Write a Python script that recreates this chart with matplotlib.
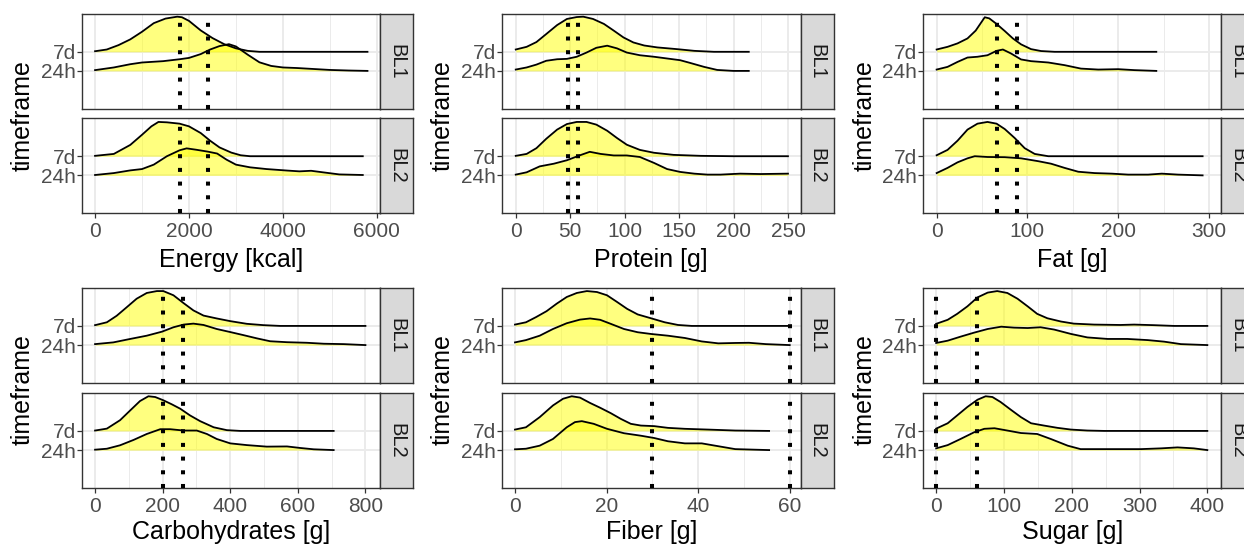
import matplotlib.pyplot as plt

plt.rcParams['font.family'] = ['Liberation Sans', 'DejaVu Sans']

# timeframe levels on the ridge axis (bottom to top)
timeframes = ['24h', '7d']

# ridge heights (in ridge-row units)
energy_bl1_7d_x = [0, 250, 500, 750, 1000, 1250, 1500, 1750, 1850, 2000, 2250, 2500, 2750, 3000, 3250, 3500, 5800]
energy_bl1_7d_h = [0.03, 0.12, 0.35, 0.65, 1.05, 1.50, 1.74, 1.84, 1.81, 1.62, 1.12, 0.72, 0.40, 0.18, 0.05, 0.0, 0.0]
energy_bl1_24h_x = [0, 400, 750, 1000, 1450, 1800, 2000, 2250, 2450, 2650, 2850, 3000, 3250, 3500, 3750, 4000, 4300, 4650, 5000, 5400, 5800]
energy_bl1_24h_h = [0.04, 0.18, 0.35, 0.44, 0.51, 0.61, 0.68, 0.88, 1.12, 1.30, 1.40, 1.28, 0.85, 0.45, 0.26, 0.18, 0.15, 0.10, 0.05, 0.02, 0.0]
energy_bl2_7d_x = [0, 400, 750, 1000, 1200, 1350, 1530, 1800, 2000, 2250, 2450, 2650, 2900, 3100, 3300, 5700]
energy_bl2_7d_h = [0.02, 0.12, 0.59, 1.12, 1.56, 1.79, 1.77, 1.70, 1.56, 1.21, 0.81, 0.46, 0.19, 0.05, 0.0, 0.0]
energy_bl2_24h_x = [0, 400, 750, 1000, 1250, 1530, 1800, 1950, 2150, 2400, 2600, 2800, 3000, 3300, 3650, 4100, 4350, 4600, 4850, 5200, 5700]
energy_bl2_24h_h = [0.02, 0.12, 0.26, 0.33, 0.56, 1.00, 1.31, 1.41, 1.34, 1.24, 1.14, 0.82, 0.56, 0.42, 0.33, 0.25, 0.21, 0.24, 0.16, 0.05, 0.02]

protein_bl1_7d_x = [0, 10, 19, 28, 38, 47, 56, 62, 71, 81, 90, 99, 108, 118, 130, 148, 164, 182, 214]
protein_bl1_7d_h = [0.12, 0.26, 0.51, 0.93, 1.40, 1.72, 1.82, 1.84, 1.72, 1.46, 1.11, 0.75, 0.49, 0.33, 0.23, 0.14, 0.05, 0.0, 0.0]
protein_bl1_24h_x = [0, 10, 19, 28, 38, 47, 56, 65, 74, 84, 93, 102, 114, 127, 139, 151, 160, 173, 185, 200, 214]
protein_bl1_24h_h = [0.07, 0.18, 0.33, 0.53, 0.61, 0.63, 0.74, 0.96, 1.21, 1.32, 1.18, 0.96, 0.82, 0.74, 0.65, 0.56, 0.42, 0.21, 0.05, 0.0, 0.0]
protein_bl2_7d_x = [0, 10, 19, 28, 38, 47, 56, 65, 74, 84, 93, 102, 114, 127, 145, 170, 200, 250]
protein_bl2_7d_h = [0.02, 0.12, 0.42, 0.91, 1.39, 1.68, 1.79, 1.79, 1.65, 1.33, 0.95, 0.60, 0.33, 0.18, 0.07, 0.02, 0.0, 0.0]
protein_bl2_24h_x = [0, 10, 22, 35, 47, 60, 68, 78, 90, 102, 114, 127, 139, 151, 164, 176, 188, 206, 225, 250]
protein_bl2_24h_h = [0.04, 0.16, 0.47, 0.61, 0.79, 1.07, 1.23, 1.12, 1.04, 1.04, 0.96, 0.65, 0.33, 0.18, 0.09, 0.04, 0.04, 0.09, 0.07, 0.09]

fat_bl1_7d_x = [0, 12, 23, 34, 43, 49, 53, 58, 66, 75, 84, 93, 104, 115, 130, 242]
fat_bl1_7d_h = [0.12, 0.26, 0.44, 0.70, 1.11, 1.53, 1.81, 1.75, 1.46, 1.09, 0.70, 0.39, 0.14, 0.04, 0.0, 0.0]
fat_bl1_24h_x = [0, 12, 23, 34, 45, 56, 66, 73, 82, 93, 104, 123, 141, 159, 178, 200, 218, 242]
fat_bl1_24h_h = [0.07, 0.21, 0.47, 0.70, 0.74, 0.82, 1.05, 1.12, 0.91, 0.60, 0.51, 0.44, 0.30, 0.12, 0.07, 0.09, 0.04, 0.0]
fat_bl2_7d_x = [0, 12, 23, 34, 45, 56, 66, 75, 86, 97, 108, 123, 293]
fat_bl2_7d_h = [0.05, 0.33, 0.81, 1.39, 1.70, 1.79, 1.70, 1.42, 0.95, 0.42, 0.12, 0.0, 0.0]
fat_bl2_24h_x = [0, 12, 23, 34, 42, 56, 75, 93, 112, 126, 141, 156, 174, 193, 211, 233, 248, 266, 293]
fat_bl2_24h_h = [0.12, 0.39, 0.68, 0.89, 1.00, 0.96, 0.95, 0.89, 0.74, 0.61, 0.39, 0.19, 0.12, 0.09, 0.04, 0.04, 0.09, 0.04, 0.0]

carbs_bl1_7d_x = [0, 35, 64, 94, 123, 153, 183, 202, 232, 262, 291, 321, 360, 400, 449, 499, 548, 800]
carbs_bl1_7d_h = [0.04, 0.19, 0.53, 0.98, 1.42, 1.72, 1.82, 1.82, 1.60, 1.19, 0.81, 0.54, 0.39, 0.25, 0.11, 0.04, 0.0, 0.0]
carbs_bl1_24h_x = [0, 54, 104, 153, 198, 232, 262, 291, 321, 360, 400, 439, 479, 518, 568, 627, 677, 736, 800]
carbs_bl1_24h_h = [0.05, 0.14, 0.32, 0.49, 0.70, 0.93, 1.07, 1.12, 1.05, 0.84, 0.68, 0.52, 0.35, 0.20, 0.15, 0.12, 0.07, 0.05, 0.0]
carbs_bl2_7d_x = [0, 35, 74, 104, 133, 158, 178, 202, 227, 252, 281, 311, 351, 390, 430, 706]
carbs_bl2_7d_h = [0.02, 0.12, 0.56, 1.07, 1.56, 1.81, 1.77, 1.60, 1.39, 1.16, 0.81, 0.51, 0.19, 0.04, 0.0, 0.0]
carbs_bl2_24h_x = [0, 35, 74, 114, 153, 193, 222, 262, 301, 331, 360, 400, 449, 508, 568, 607, 647, 706]
carbs_bl2_24h_h = [0.02, 0.07, 0.25, 0.53, 0.84, 1.09, 1.09, 1.02, 1.02, 0.84, 0.58, 0.35, 0.26, 0.18, 0.19, 0.11, 0.04, 0.0]

fiber_bl1_7d_x = [0, 2.4, 4.6, 6.9, 9.1, 11.3, 13.5, 15.7, 17.9, 20.1, 22.3, 24.5, 26.8, 29.7, 32.7, 35.6, 38.6, 60]
fiber_bl1_7d_h = [0.07, 0.19, 0.46, 0.77, 1.16, 1.51, 1.72, 1.82, 1.77, 1.60, 1.25, 0.89, 0.60, 0.40, 0.19, 0.05, 0.0, 0.0]
fiber_bl1_24h_x = [0, 2.4, 5.4, 8.3, 11.3, 14.2, 16.4, 18.6, 20.9, 23.8, 26.8, 29.7, 33.4, 37.1, 40.8, 44.4, 48.1, 51.1, 54.8, 60]
fiber_bl1_24h_h = [0.14, 0.26, 0.49, 0.84, 1.14, 1.33, 1.39, 1.32, 1.11, 0.84, 0.67, 0.58, 0.49, 0.37, 0.19, 0.09, 0.11, 0.12, 0.05, 0.0]
fiber_bl2_7d_x = [0, 2.4, 5.4, 8.3, 10.5, 12.4, 14.2, 16.4, 18.6, 20.9, 23.1, 25.3, 27.5, 30.4, 33.4, 37.1, 42.2, 48.1, 55.5]
fiber_bl2_7d_h = [0.07, 0.19, 0.72, 1.33, 1.68, 1.81, 1.74, 1.46, 1.21, 0.93, 0.63, 0.37, 0.28, 0.25, 0.16, 0.11, 0.07, 0.02, 0.0]
fiber_bl2_24h_x = [0, 2.4, 5.4, 8.3, 11.3, 13.1, 14.6, 17.2, 20.1, 23.8, 27.5, 30.4, 33.4, 37.1, 40.8, 43.7, 48.1, 52.5, 55.5]
fiber_bl2_24h_h = [0.04, 0.07, 0.23, 0.58, 1.19, 1.46, 1.51, 1.37, 1.11, 0.88, 0.75, 0.63, 0.46, 0.35, 0.35, 0.23, 0.05, 0.02, 0.0]

sugar_bl1_7d_x = [0, 17, 31, 46, 61, 76, 90, 105, 120, 135, 149, 164, 184, 203, 233, 272, 292, 321, 351, 400]
sugar_bl1_7d_h = [0.11, 0.32, 0.63, 1.02, 1.49, 1.74, 1.82, 1.72, 1.42, 1.02, 0.63, 0.40, 0.23, 0.12, 0.07, 0.05, 0.07, 0.04, 0.0, 0.0]
sugar_bl1_24h_x = [0, 17, 36, 56, 76, 96, 115, 135, 154, 174, 199, 223, 253, 282, 312, 336, 361, 400]
sugar_bl1_24h_h = [0.11, 0.23, 0.44, 0.65, 0.84, 0.96, 0.91, 0.89, 0.93, 0.81, 0.58, 0.40, 0.32, 0.32, 0.26, 0.18, 0.05, 0.0]
sugar_bl2_7d_x = [0, 17, 31, 46, 61, 73, 83, 95, 110, 125, 140, 159, 179, 199, 223, 248, 400]
sugar_bl2_7d_h = [0.12, 0.40, 0.81, 1.25, 1.63, 1.81, 1.77, 1.51, 1.11, 0.72, 0.40, 0.28, 0.16, 0.07, 0.02, 0.0, 0.0]
sugar_bl2_24h_x = [0, 17, 36, 56, 71, 86, 105, 125, 149, 169, 194, 213, 243, 272, 302, 332, 356, 380, 400]
sugar_bl2_24h_h = [0.09, 0.26, 0.58, 0.93, 1.11, 1.14, 1.02, 0.89, 0.84, 0.58, 0.23, 0.05, 0.05, 0.05, 0.05, 0.09, 0.14, 0.09, 0.0]

# reference intake lines (dotted)
energy_ref = [1800, 2400]
protein_ref = [48, 57]
fat_ref = [66, 88]
carbs_ref = [200, 260]
fiber_ref = [30, 60]
sugar_ref = [0, 60]

panels = [
    dict(label='Energy [kcal]', xlim=(-284, 6073), ticks=[0, 2000, 4000, 6000], minor=[1000, 3000, 5000],
         ref=energy_ref,
         BL1={'7d': (energy_bl1_7d_x, energy_bl1_7d_h), '24h': (energy_bl1_24h_x, energy_bl1_24h_h)},
         BL2={'7d': (energy_bl2_7d_x, energy_bl2_7d_h), '24h': (energy_bl2_24h_x, energy_bl2_24h_h)}),
    dict(label='Protein [g]', xlim=(-12.9, 261.7), ticks=[0, 50, 100, 150, 200, 250], minor=[25, 75, 125, 175, 225],
         ref=protein_ref,
         BL1={'7d': (protein_bl1_7d_x, protein_bl1_7d_h), '24h': (protein_bl1_24h_x, protein_bl1_24h_h)},
         BL2={'7d': (protein_bl2_7d_x, protein_bl2_7d_h), '24h': (protein_bl2_24h_x, protein_bl2_24h_h)}),
    dict(label='Fat [g]', xlim=(-14.7, 313.6), ticks=[0, 100, 200, 300], minor=[50, 150, 250],
         ref=fat_ref,
         BL1={'7d': (fat_bl1_7d_x, fat_bl1_7d_h), '24h': (fat_bl1_24h_x, fat_bl1_24h_h)},
         BL2={'7d': (fat_bl2_7d_x, fat_bl2_7d_h), '24h': (fat_bl2_24h_x, fat_bl2_24h_h)}),
    dict(label='Carbohydrates [g]', xlim=(-39.5, 844), ticks=[0, 200, 400, 600, 800], minor=[100, 300, 500, 700],
         ref=carbs_ref,
         BL1={'7d': (carbs_bl1_7d_x, carbs_bl1_7d_h), '24h': (carbs_bl1_24h_x, carbs_bl1_24h_h)},
         BL2={'7d': (carbs_bl2_7d_x, carbs_bl2_7d_h), '24h': (carbs_bl2_24h_x, carbs_bl2_24h_h)}),
    dict(label='Fiber [g]', xlim=(-2.9, 62.4), ticks=[0, 20, 40, 60], minor=[10, 30, 50],
         ref=fiber_ref,
         BL1={'7d': (fiber_bl1_7d_x, fiber_bl1_7d_h), '24h': (fiber_bl1_24h_x, fiber_bl1_24h_h)},
         BL2={'7d': (fiber_bl2_7d_x, fiber_bl2_7d_h), '24h': (fiber_bl2_24h_x, fiber_bl2_24h_h)}),
    dict(label='Sugar [g]', xlim=(-19, 420.6), ticks=[0, 100, 200, 300, 400], minor=[50, 150, 250, 350],
         ref=sugar_ref,
         BL1={'7d': (sugar_bl1_7d_x, sugar_bl1_7d_h), '24h': (sugar_bl1_24h_x, sugar_bl1_24h_h)},
         BL2={'7d': (sugar_bl2_7d_x, sugar_bl2_7d_h), '24h': (sugar_bl2_24h_x, sugar_bl2_24h_h)}),
]

W, H = 1244, 544
fig = plt.figure(figsize=(W / 100, H / 100), dpi=100)

# layout in pixels
col_left = [81.7, 501.7, 923.3]
col_right = [380.3, 800.7, 1221.3]
row_facets = [[(14, 108.7), (118.3, 213.3)], [(288, 383), (393, 488)]]
xlabel_base = [266.5, 538.5]
strip_w = 33

grid_c = '#EBEBEB'
border_c = '#333333'
tick_c = '#4D4D4D'


def px_axes(x0, x1, y0, y1):
    return fig.add_axes([x0 / W, 1 - y1 / H, (x1 - x0) / W, (y1 - y0) / H])


for i, p in enumerate(panels):
    r, c = divmod(i, 3)
    x0, x1 = col_left[c], col_right[c]
    for j, facet in enumerate(['BL1', 'BL2']):
        y0, y1 = row_facets[r][j]
        ax = px_axes(x0, x1, y0, y1)
        ax.set_xlim(*p['xlim'])
        ax.set_ylim(-0.98, 3.98)
        ax.set_xticks(p['ticks'])
        ax.set_xticks(p['minor'], minor=True)
        ax.set_yticks([1, 2])
        ax.set_yticklabels(timeframes)
        ax.grid(True, which='major', color=grid_c, lw=1.4)
        ax.grid(True, which='minor', axis='x', color=grid_c, lw=0.7)
        ax.set_axisbelow(True)
        for s in ax.spines.values():
            s.set_color(border_c)
            s.set_linewidth(1.0)
        ax.tick_params(axis='both', which='major', length=3.5, width=0.9, color=border_c,
                       labelcolor=tick_c, labelsize=15)
        ax.tick_params(axis='y', pad=0.8)
        ax.tick_params(axis='x', pad=3.0)
        ax.tick_params(which='minor', length=0)
        if j == 0:
            ax.tick_params(axis='x', labelbottom=False, length=0)

        # ridges: top level first so lower ridges sit on top
        for k in [1, 0]:
            tf = timeframes[k]
            xs, hs = p[facet][tf]
            base = k + 1
            top = [base + h for h in hs]
            ax.fill_between(xs, base, top, color='yellow', alpha=0.5, lw=0, zorder=2)
            ax.plot(xs, top, color='black', lw=1.3, zorder=3, solid_joinstyle='round')

        for v in p['ref']:
            ax.axvline(v, color='black', lw=2.9, linestyle=(0, (1, 2.4)), zorder=4)

        # facet strip on the right
        sax = px_axes(x1, x1 + strip_w, y0, y1)
        sax.set_facecolor('#D9D9D9')
        sax.set_xticks([])
        sax.set_yticks([])
        for s in sax.spines.values():
            s.set_color(border_c)
            s.set_linewidth(1.0)
        sax.text(0.5, 0.5, facet, rotation=270, ha='center', va='center',
                 fontsize=14.5, color='#1A1A1A', transform=sax.transAxes)

    # axis titles
    fy0, fy1 = row_facets[r][0][0], row_facets[r][1][1]
    fig.text((col_left[c] - 59) / W, 1 - ((fy0 + fy1) / 2 + 1.5) / H, 'timeframe', rotation=90,
             ha='center', va='center', fontsize=18)
    fig.text((x0 + x1) / 2 / W, 1 - xlabel_base[r] / H, p['label'], ha='center', va='baseline',
             fontsize=18)

fig.savefig('out.png', dpi=100)
